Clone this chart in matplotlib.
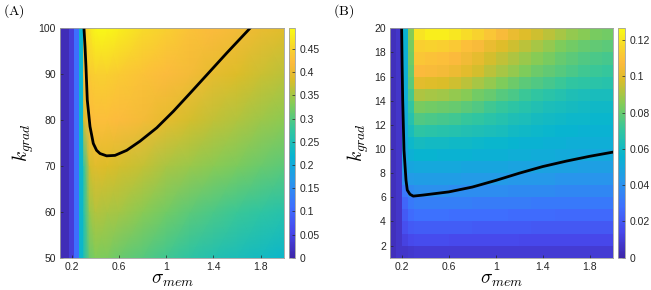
import numpy as np
import matplotlib
matplotlib.use('Agg')
import matplotlib.pyplot as plt
from matplotlib.colors import LinearSegmentedColormap, Normalize

plt.rcParams['font.family'] = ['Liberation Sans', 'DejaVu Sans']
plt.rcParams['mathtext.fontset'] = 'cm'

# parula-like colormap (MATLAB default)
parula = LinearSegmentedColormap.from_list('parula', [
    (0.000, (0.2422, 0.1504, 0.6603)), (0.111, (0.2803, 0.2782, 0.9221)),
    (0.222, (0.2440, 0.4358, 0.9988)), (0.333, (0.1540, 0.5902, 0.9218)),
    (0.444, (0.0297, 0.7082, 0.8163)), (0.556, (0.1938, 0.7758, 0.6251)),
    (0.667, (0.5044, 0.7993, 0.3480)), (0.778, (0.8634, 0.7406, 0.1596)),
    (0.850, (0.9900, 0.7300, 0.2400)), (0.920, (0.9700, 0.8400, 0.1700)),
    (1.000, (0.9769, 0.9839, 0.0805))])

# ---- panel A data ----
a_band_edges = [0.1, 0.18, 0.22, 0.26, 0.30]
a_band_vals = [0.012, 0.04, 0.11, 0.225]
a_sigma = [0.30, 0.35, 0.4, 0.5, 0.6, 0.8, 1.0, 1.2, 1.4, 1.6, 1.8, 2.0]
a_kgrad = [50, 60, 70, 80, 90, 100]
a_vals = [
    [0.250, 0.315, 0.330, 0.325, 0.315, 0.300, 0.285, 0.270, 0.257, 0.246, 0.236, 0.226],
    [0.258, 0.345, 0.360, 0.355, 0.350, 0.335, 0.320, 0.305, 0.292, 0.282, 0.272, 0.262],
    [0.268, 0.380, 0.390, 0.385, 0.380, 0.370, 0.355, 0.345, 0.335, 0.325, 0.315, 0.305],
    [0.380, 0.420, 0.425, 0.425, 0.420, 0.410, 0.395, 0.380, 0.368, 0.358, 0.348, 0.338],
    [0.420, 0.440, 0.445, 0.445, 0.440, 0.430, 0.420, 0.410, 0.395, 0.385, 0.375, 0.365],
    [0.430, 0.470, 0.490, 0.490, 0.480, 0.460, 0.445, 0.430, 0.420, 0.410, 0.400, 0.390],
]
a_vmax = 0.495
a_line_sigma = [0.303, 0.312, 0.320, 0.331, 0.354, 0.382, 0.410, 0.439, 0.495, 0.566,
                0.665, 0.778, 0.919, 1.060, 1.200, 1.342, 1.512, 1.709]
a_line_k = [100, 96, 91.6, 84.4, 78.6, 74.9, 73.4, 72.7, 72.2, 72.3,
            73.4, 75.4, 78.3, 81.9, 85.8, 89.8, 94.6, 100]

# ---- panel B data (rows top to bottom) ----
b_sigma_edges = [0.1, 0.15, 0.2, 0.25, 0.3, 0.4, 0.5, 0.6, 0.7, 0.8, 0.9, 1.0, 1.1,
                 1.2, 1.3, 1.4, 1.5, 1.6, 1.7, 1.8, 1.9, 2.0]
b_kgrad_edges = [20, 19, 18, 17, 16, 15, 14, 13, 12, 11, 10, 9, 8, 7, 6, 5, 4, 3, 2, 1]
b_vals = [
    [0.004, 0.007, 0.055, 0.085, 0.120, 0.123, 0.123, 0.121, 0.118, 0.115, 0.111, 0.106, 0.102, 0.099, 0.096, 0.093, 0.090, 0.087, 0.085, 0.083, 0.082],
    [0.004, 0.007, 0.054, 0.083, 0.114, 0.115, 0.114, 0.112, 0.109, 0.106, 0.102, 0.099, 0.096, 0.093, 0.090, 0.087, 0.084, 0.082, 0.080, 0.079, 0.078],
    [0.004, 0.007, 0.053, 0.082, 0.111, 0.110, 0.109, 0.107, 0.104, 0.101, 0.097, 0.094, 0.091, 0.088, 0.085, 0.083, 0.080, 0.078, 0.076, 0.075, 0.074],
    [0.004, 0.007, 0.053, 0.080, 0.107, 0.106, 0.105, 0.103, 0.100, 0.097, 0.093, 0.090, 0.087, 0.084, 0.081, 0.079, 0.077, 0.075, 0.073, 0.072, 0.071],
    [0.004, 0.007, 0.052, 0.078, 0.100, 0.099, 0.098, 0.096, 0.093, 0.090, 0.087, 0.084, 0.081, 0.078, 0.076, 0.074, 0.072, 0.070, 0.069, 0.068, 0.067],
    [0.004, 0.007, 0.052, 0.074, 0.091, 0.090, 0.089, 0.087, 0.085, 0.082, 0.080, 0.077, 0.075, 0.072, 0.070, 0.068, 0.066, 0.064, 0.063, 0.062, 0.062],
    [0.004, 0.007, 0.051, 0.070, 0.083, 0.082, 0.081, 0.080, 0.078, 0.076, 0.073, 0.071, 0.069, 0.067, 0.065, 0.063, 0.062, 0.061, 0.060, 0.059, 0.059],
    [0.004, 0.007, 0.051, 0.066, 0.076, 0.075, 0.074, 0.073, 0.071, 0.070, 0.068, 0.066, 0.064, 0.063, 0.061, 0.060, 0.059, 0.058, 0.058, 0.057, 0.057],
    [0.004, 0.007, 0.050, 0.062, 0.069, 0.068, 0.067, 0.066, 0.065, 0.064, 0.063, 0.062, 0.060, 0.059, 0.058, 0.057, 0.056, 0.056, 0.055, 0.055, 0.055],
    [0.004, 0.007, 0.049, 0.058, 0.061, 0.060, 0.060, 0.059, 0.059, 0.058, 0.057, 0.057, 0.056, 0.055, 0.055, 0.054, 0.054, 0.053, 0.053, 0.053, 0.053],
    [0.004, 0.007, 0.047, 0.054, 0.056, 0.056, 0.055, 0.055, 0.055, 0.054, 0.054, 0.054, 0.053, 0.053, 0.052, 0.052, 0.051, 0.051, 0.050, 0.050, 0.050],
    [0.004, 0.007, 0.044, 0.049, 0.050, 0.050, 0.050, 0.050, 0.049, 0.049, 0.049, 0.049, 0.048, 0.048, 0.048, 0.047, 0.047, 0.047, 0.046, 0.046, 0.046],
    [0.004, 0.007, 0.040, 0.044, 0.045, 0.045, 0.045, 0.045, 0.044, 0.044, 0.044, 0.044, 0.043, 0.043, 0.043, 0.043, 0.042, 0.042, 0.042, 0.042, 0.042],
    [0.004, 0.007, 0.031, 0.038, 0.040, 0.040, 0.040, 0.039, 0.039, 0.039, 0.039, 0.039, 0.038, 0.038, 0.038, 0.038, 0.037, 0.037, 0.037, 0.037, 0.037],
    [0.004, 0.007, 0.025, 0.032, 0.034, 0.034, 0.034, 0.034, 0.034, 0.033, 0.033, 0.033, 0.033, 0.033, 0.032, 0.032, 0.032, 0.032, 0.032, 0.032, 0.032],
    [0.004, 0.007, 0.021, 0.027, 0.029, 0.029, 0.029, 0.028, 0.028, 0.028, 0.028, 0.028, 0.027, 0.027, 0.027, 0.027, 0.026, 0.026, 0.026, 0.026, 0.026],
    [0.004, 0.007, 0.017, 0.021, 0.022, 0.022, 0.022, 0.022, 0.022, 0.021, 0.021, 0.021, 0.021, 0.021, 0.020, 0.020, 0.020, 0.020, 0.020, 0.020, 0.020],
    [0.004, 0.007, 0.012, 0.015, 0.016, 0.016, 0.016, 0.015, 0.015, 0.015, 0.015, 0.015, 0.015, 0.014, 0.014, 0.014, 0.014, 0.014, 0.014, 0.014, 0.014],
    [0.004, 0.007, 0.007, 0.008, 0.009, 0.009, 0.009, 0.009, 0.009, 0.009, 0.009, 0.009, 0.009, 0.009, 0.009, 0.009, 0.009, 0.009, 0.009, 0.009, 0.009],
]
b_vmax = 0.1265
b_line_sigma = [0.199, 0.203, 0.208, 0.219, 0.236, 0.247, 0.270, 0.298, 0.384, 0.6,
                0.8, 1.0, 1.2, 1.4, 1.6, 1.8, 2.0]
b_line_k = [20, 17, 14.06, 9.92, 7.43, 6.6, 6.25, 6.1, 6.19, 6.45,
            6.85, 7.4, 8.0, 8.55, 9.0, 9.4, 9.75]

xticks = [0.2, 0.6, 1.0, 1.4, 1.8]
xticklabels = ['0.2', '0.6', '1', '1.4', '1.8']
a_yticks = [50, 60, 70, 80, 90, 100]
b_yticks = [2, 4, 6, 8, 10, 12, 14, 16, 18, 20]
a_cticks = [0, 0.05, 0.1, 0.15, 0.2, 0.25, 0.3, 0.35, 0.4, 0.45]
a_clabels = ['0', '0.05', '0.1', '0.15', '0.2', '0.25', '0.3', '0.35', '0.4', '0.45']
b_cticks = [0, 0.02, 0.04, 0.06, 0.08, 0.1, 0.12]
b_clabels = ['0', '0.02', '0.04', '0.06', '0.08', '0.1', '0.12']

W, H = 651, 290
fig = plt.figure(figsize=(W / 100, H / 100), dpi=100)
edge = '#a0a0a0'
tcol = '#262626'


def px(x0, y0, x1, y1):
    return [x0 / W, 1 - y1 / H, (x1 - x0) / W, (y1 - y0) / H]


def style(ax):
    for s in ax.spines.values():
        s.set_color(edge)
        s.set_linewidth(0.6)
    ax.tick_params(direction='in', length=2.5, width=0.5, colors=tcol,
                   labelsize=7.5, pad=3)


def cbar(mappable, rect, ticks, labels):
    cax = fig.add_axes(rect)
    cb = fig.colorbar(mappable, cax=cax)
    cb.set_ticks(ticks)
    cb.set_ticklabels(labels)
    cb.outline.set_edgecolor(edge)
    cb.outline.set_linewidth(0.6)
    cax.tick_params(direction='in', length=2, width=0.5, colors=tcol,
                    labelsize=7.5, pad=3)


# ---- panel A ----
axA = fig.add_axes(px(60, 28.3, 284.3, 257.7))
normA = Normalize(0, a_vmax)
axA.pcolormesh(a_band_edges, [50, 100], [a_band_vals], cmap=parula, norm=normA,
               shading='flat')
mA = axA.pcolormesh(a_sigma, a_kgrad, np.array(a_vals), cmap=parula, norm=normA,
                    shading='gouraud')
axA.plot(a_line_sigma, a_line_k, color='black', lw=2, solid_joinstyle='round')
axA.set_xlim(0.1, 2.0)
axA.set_ylim(50, 100)
axA.set_xticks(xticks)
axA.set_xticklabels(xticklabels)
axA.set_yticks(a_yticks)
axA.set_xlabel(r'$\sigma_{mem}$', fontsize=14, labelpad=0)
axA.set_ylabel(r'$k_{grad}$', fontsize=14, labelpad=2)
style(axA)
cbar(mA, px(288.5, 28.3, 295, 257.7), a_cticks, a_clabels)
fig.text(3 / W, 1 - 11 / H, r'$\mathrm{(A)}$', fontsize=10, va='center', ha='left')

# ---- panel B ----
axB = fig.add_axes(px(390, 28.3, 613.3, 257.7))
normB = Normalize(0, b_vmax)
mB = axB.pcolormesh(b_sigma_edges, b_kgrad_edges, np.array(b_vals), cmap=parula,
                    norm=normB, shading='flat')
axB.plot(b_line_sigma, b_line_k, color='black', lw=2, solid_joinstyle='round')
axB.set_xlim(0.1, 2.0)
axB.set_ylim(1, 20)
axB.set_xticks(xticks)
axB.set_xticklabels(xticklabels)
axB.set_yticks(b_yticks)
axB.set_xlabel(r'$\sigma_{mem}$', fontsize=14, labelpad=0)
axB.set_ylabel(r'$k_{grad}$', fontsize=14, labelpad=2)
style(axB)
cbar(mB, px(618.3, 28.3, 625, 257.7), b_cticks, b_clabels)
fig.text(333 / W, 1 - 11 / H, r'$\mathrm{(B)}$', fontsize=10, va='center', ha='left')

fig.savefig('out.png', dpi=100)
